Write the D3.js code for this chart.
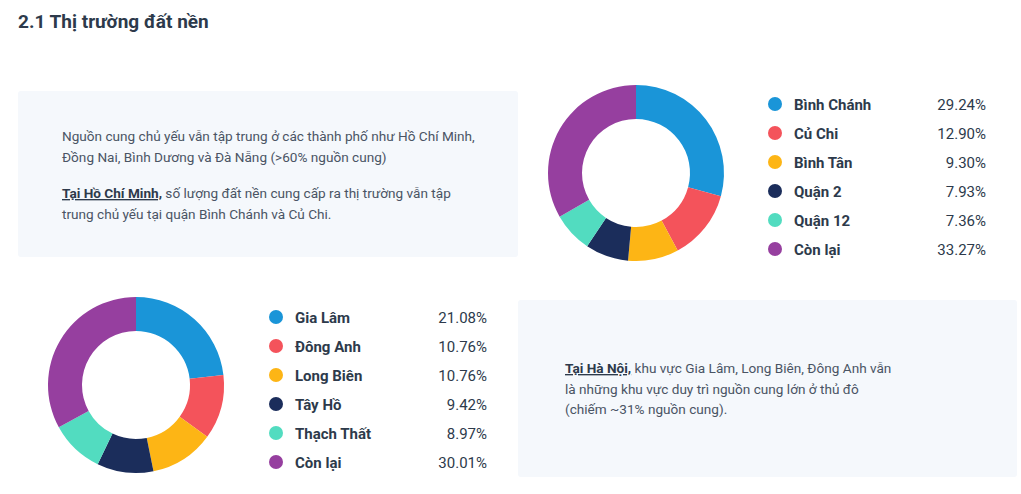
<!DOCTYPE html>
<html>
<head>
<meta charset="utf-8">
<script src="https://cdn.jsdelivr.net/npm/d3@7"></script>
<style>
  html, body { margin: 0; padding: 0; background: #fff; }
  #chart { width: 1021px; height: 494px; }
  text { font-family: Roboto, "Noto Sans", sans-serif; }
</style>
</head>
<body>
<div id="chart"></div>
<script>
"use strict";

var hcmLabels = ["Bình Chánh", "Củ Chi", "Bình Tân", "Quận 2", "Quận 12", "Còn lại"];
var hcmValues = [29.24, 12.90, 9.30, 7.93, 7.36, 33.27];
var hnLabels = ["Gia Lâm", "Đông Anh", "Long Biên", "Tây Hồ", "Thạch Thất", "Còn lại"];
var hnValues = [21.08, 10.76, 10.76, 9.42, 8.97, 30.01];
var colors = ["#1a95d8", "#f4535b", "#fdb515", "#1b2d5b", "#52dcc0", "#963f9f"];

var width = 1021, height = 494;
var svg = d3.select("#chart").append("svg").attr("width", width).attr("height", height);

svg.append("text").attr("x", 18).attr("y", 28)
  .attr("font-size", 19).attr("font-weight", "bold").attr("fill", "#2d3a4b")
  .text("2.1 Thị trường đất nền");

// text boxes
function box(x, y, w, h) {
  svg.append("rect").attr("x", x).attr("y", y).attr("width", w).attr("height", h)
    .attr("rx", 3).attr("fill", "#f5f8fc");
}
box(18, 91, 500, 166);
box(518, 300, 499, 177);

function para(x, y, lines) {
  lines.forEach(function (parts, i) {
    var t = svg.append("text").attr("x", x).attr("y", y + i * 20.5)
      .attr("font-size", 13.6).attr("fill", "#4a5464");
    parts.forEach(function (p) {
      var ts = t.append("tspan").text(p.t);
      if (p.b) ts.attr("font-weight", "bold").attr("fill", "#2d3a4b").attr("text-decoration", "underline");
    });
  });
}
para(62, 141, [
  [{ t: "Nguồn cung chủ yếu vẫn tập trung ở các thành phố như Hồ Chí Minh," }],
  [{ t: "Đồng Nai, Bình Dương và Đà Nẵng (>60% nguồn cung)" }]
]);
para(62, 198, [
  [{ t: "Tại Hồ Chí Minh,", b: true }, { t: " số lượng đất nền cung cấp ra thị trường vẫn tập" }],
  [{ t: "trung chủ yếu tại quận Bình Chánh và Củ Chi." }]
]);
para(565, 373, [
  [{ t: "Tại Hà Nội,", b: true }, { t: " khu vực Gia Lâm, Long Biên, Đông Anh vẫn" }],
  [{ t: "là những khu vực duy trì nguồn cung lớn ở thủ đô" }],
  [{ t: "(chiếm ~31% nguồn cung)." }]
]);

var pie = d3.pie().sort(null).value(function (d) { return d; });
var arc = d3.arc().innerRadius(54).outerRadius(88);

function donut(values, cx, cy) {
  var g = svg.append("g").attr("transform", "translate(" + cx + "," + cy + ")");
  g.selectAll("path").data(pie(values)).enter().append("path")
    .attr("d", arc)
    .attr("fill", function (d, i) { return colors[i]; });
}

function legend(labels, values, x, y, right) {
  var yScale = d3.scalePoint().domain(labels).range([y, y + 145]);
  var g = svg.append("g");
  labels.forEach(function (l, i) {
    var yy = yScale(l);
    g.append("circle").attr("cx", x).attr("cy", yy).attr("r", 7).attr("fill", colors[i]);
    g.append("text").attr("x", x + 19).attr("y", yy + 5.5)
      .attr("font-size", 15).attr("font-weight", "bold").attr("fill", "#2d3a4b").text(l);
    g.append("text").attr("x", right).attr("y", yy + 5.5).attr("text-anchor", "end")
      .attr("font-size", 15).attr("fill", "#2d3a4b").text(values[i].toFixed(2) + "%");
  });
}

donut(hcmValues, 636, 173);
legend(hcmLabels, hcmValues, 775, 104, 986);
donut(hnValues, 136, 385);
legend(hnLabels, hnValues, 276, 317, 487);
</script>
</body>
</html>
